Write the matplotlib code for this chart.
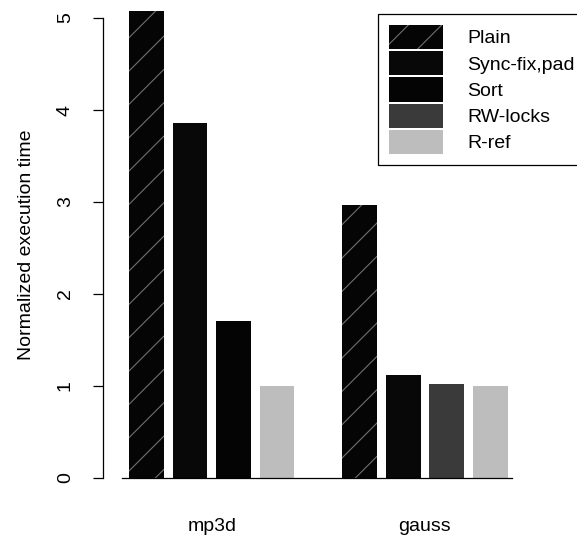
import numpy as np
import matplotlib
matplotlib.use("Agg")
import matplotlib.pyplot as plt

plt.rcParams['font.family'] = ['Liberation Sans', 'DejaVu Sans']
plt.rcParams['hatch.linewidth'] = 0.8

groups = ['mp3d', 'gauss']
series = ['Plain', 'Sync-fix,pad', 'Sort', 'RW-locks', 'R-ref']
plain = [5.1, 2.97]
sync_fix_pad = [3.86, 1.12]
sort_vals = [1.71, np.nan]
rw_locks = [np.nan, 1.02]
r_ref = [1.0, 1.0]
values = [plain, sync_fix_pad, sort_vals, rw_locks, r_ref]

faces = ['#050505', '#080808', '#040404', '#3a3a3a', '#bdbdbd']
hatches = ['/', None, None, None, None]
hatch_cols = ['#707070', '#080808', '#040404', '#3a3a3a', '#bdbdbd']

W, H = 577, 535
fs = 14
fig = plt.figure(figsize=(W / 100, H / 100), dpi=100)
# axes in pixel box: left 103, right 520, top 11, bottom 478
ax = fig.add_axes([103 / W, 1 - 478 / H, (520 - 103) / W, (478 - 11) / H])

group_gap = 4.9
centers = []
for g in range(len(groups)):
    slot = 0
    for s in range(len(series)):
        v = values[s][g]
        if np.isnan(v):
            continue
        x = g * group_gap + slot
        ax.bar(x, v, width=0.8, color=faces[s], edgecolor=hatch_cols[s],
               hatch=hatches[s], linewidth=0)
        slot += 1
    centers.append(g * group_gap + (slot - 1) / 2)

ax.set_ylim(0, 467 / 92)
x0 = (103 - 146.5) / 43.5
x1 = (520 - 146.5) / 43.5
ax.set_xlim(x0, x1)

for sp in ['top', 'right']:
    ax.spines[sp].set_visible(False)
ax.spines['left'].set_bounds(0, 5)
ax.spines['bottom'].set_bounds(-0.56, 8.4)
ax.spines['left'].set_linewidth(0.9)
ax.spines['bottom'].set_linewidth(0.9)

ax.set_yticks([0, 1, 2, 3, 4, 5])
ax.set_yticklabels(['0', '1', '2', '3', '4', '5'], rotation=90, va='center', fontsize=fs)
ax.tick_params(axis='y', length=7, width=0.9, pad=14)
ax.set_xticks(centers)
ax.set_xticklabels(groups, fontsize=fs)
ax.tick_params(axis='x', length=0, pad=28.5)
ax.set_ylabel('Normalized execution time', fontsize=fs, labelpad=16)

leg_handles = []
for s in range(len(series)):
    p = plt.Rectangle((0, 0), 1, 1, facecolor=faces[s], edgecolor=hatch_cols[s],
                      hatch=hatches[s], linewidth=0)
    leg_handles.append(p)
leg = fig.legend(leg_handles, series, loc='upper left',
                 bbox_to_anchor=(378 / W, 1 - 14 / H), fontsize=fs,
                 frameon=True, fancybox=False, edgecolor='black', framealpha=1,
                 handlelength=2.8, handleheight=1.55, labelspacing=0.1,
                 handletextpad=1.25, borderpad=0.55, borderaxespad=0)
leg.get_frame().set_linewidth(0.9)

fig.savefig('out.png', dpi=100)
